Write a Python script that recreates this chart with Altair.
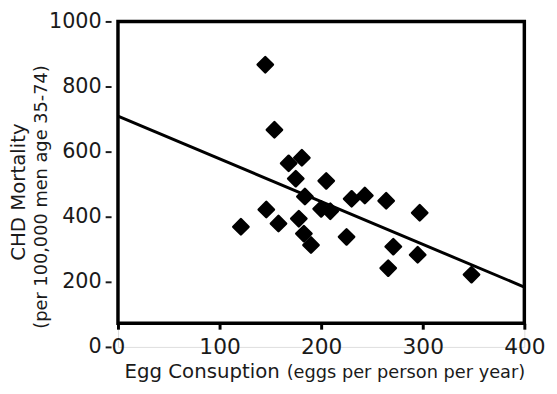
import altair as alt
import pandas as pd

# Egg consumption (eggs per person per year) vs CHD mortality
egg = [145, 154, 168, 181, 175, 205, 184, 146, 121, 158, 178, 183, 190,
       200, 209, 230, 243, 264, 225, 297, 271, 295, 266, 348]
chd = [867, 667, 564, 581, 517, 510, 462, 422, 369, 379, 394, 348, 313,
       424, 417, 455, 465, 449, 338, 412, 308, 283, 242, 222]

# fitted trend line end points
fit_x = [0, 400]
fit_y = [709, 184]

# plot frame extent (data units)
frame_x = [0, 400]
frame_y = [73, 1000]

y_ticks = list(range(0, 1001, 100))
x_ticks = [0, 100, 200, 300, 400]

FONT = "DejaVu Sans"
INK = "#1a1a1a"

pts = pd.DataFrame({"egg": egg, "chd": chd})
fit = pd.DataFrame({"egg": fit_x, "chd": fit_y})
frame = pd.DataFrame({"x0": [frame_x[0]], "x1": [frame_x[1]],
                      "y0": [frame_y[0]], "y1": [frame_y[1]]})

xs = alt.Scale(domain=[0, 400], nice=False, zero=False)
ys = alt.Scale(domain=[0, 1000], nice=False, zero=False)

xaxis = alt.Axis(values=x_ticks, title=None, grid=False, domain=False,
                 offset=-24, tickSize=6, tickWidth=3, tickColor="black",
                 format="d",
                 labelFont=FONT, labelFontSize=22, labelColor=INK,
                 labelPadding=8, labelFlush=False, labelOverlap=False)
yaxis = alt.Axis(values=y_ticks, title=None, grid=False, domain=False,
                 offset=7, tickSize=6, tickWidth=2, tickColor=INK,
                 format="d",
                 labelExpr="datum.value % 200 == 0 ? datum.label : ''",
                 labelFont=FONT, labelFontSize=21, labelColor=INK,
                 labelPadding=4, labelFlush=False, labelOverlap=False)

points = alt.Chart(pts).mark_point(
    shape="diamond", filled=True, size=240, color="black",
    stroke="black", strokeWidth=2.5, strokeJoin="round", opacity=1
).encode(
    x=alt.X("egg:Q", scale=xs, axis=xaxis),
    y=alt.Y("chd:Q", scale=ys, axis=yaxis),
)

line = alt.Chart(fit).mark_line(color="black", strokeWidth=3).encode(
    x=alt.X("egg:Q", scale=xs),
    y=alt.Y("chd:Q", scale=ys),
)

box = alt.Chart(frame).mark_rect(
    filled=False, stroke="black", strokeWidth=3.5
).encode(
    x=alt.X("x0:Q", scale=xs), x2="x1:Q",
    y=alt.Y("y0:Q", scale=ys), y2="y1:Q",
)

lbl = pd.DataFrame({"t": [0]})
ytitle1 = alt.Chart(lbl).mark_text(
    text="CHD Mortality", angle=270, font=FONT, fontSize=20, color=INK,
    align="center", baseline="middle"
).encode(x=alt.value(-100), y=alt.value(173))
ytitle2 = alt.Chart(lbl).mark_text(
    text="(per 100,000 men age 35-74)", angle=270, font=FONT, fontSize=18,
    color=INK, align="center", baseline="middle"
).encode(x=alt.value(-77), y=alt.value(178))
xtitle1 = alt.Chart(lbl).mark_text(
    text="Egg Consuption", font=FONT, fontSize=20, color=INK,
    align="right", baseline="alphabetic"
).encode(x=alt.value(164), y=alt.value(362))
xtitle2 = alt.Chart(lbl).mark_text(
    text="(eggs per person per year)", font=FONT, fontSize=18, color=INK,
    align="left", baseline="alphabetic"
).encode(x=alt.value(171), y=alt.value(362))

chart = alt.layer(
    line, points, box, ytitle1, ytitle2, xtitle1, xtitle2
).properties(
    width=412, height=330,
    autosize=alt.AutoSizeParams(type="none"),
    padding={"left": 111.5, "top": 11, "right": 25, "bottom": 37},
).configure_view(stroke=None).configure(background="white")

chart.save("out.html", embed_options={"renderer": "svg", "actions": False})
